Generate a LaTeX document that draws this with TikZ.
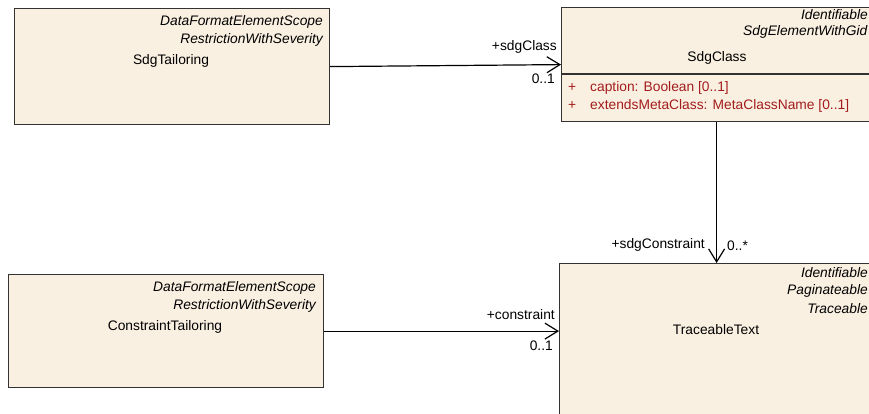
\documentclass[tikz,border=0pt]{standalone}
\usepackage{fontspec}
\setmainfont{Liberation Sans}
\usetikzlibrary{arrows.meta}
\definecolor{ClassFill}{RGB}{250,240,226}
\definecolor{AttrRed}{RGB}{163,28,28}
\definecolor{EdgeGray}{RGB}{50,50,50}
\tikzset{cbox/.style = {draw = EdgeGray, fill = ClassFill, line width = 1.2pt, anchor = north west}}
\tikzset{stereo/.style = {anchor = east, font = \fontsize{13.8}{16}\selectfont\itshape}}
\tikzset{attr/.style = {anchor = west, text = AttrRed}}
\tikzset{assoc/.style = {line width = 1.2pt, -{Straight Barb[length = 13pt, width = 16pt, line width = 1.2pt]}}}

\begin{document}
\begin{tikzpicture}[x = 1pt, y = -1pt, every node/.style = {inner sep = 0pt, font = \fontsize{13.8}{16}\selectfont}]
    \useasboundingbox (0, 0) rectangle (869, 414);
    \clip (0, 0) rectangle (869, 414);
    \foreach \x\y\w\h\n in {14/8/315/116/sdgtail, 8/274/315/113/contail, 561/7/310/114/sdgclass, 559/263/316/170/trace} {
        \node [cbox, minimum width = \w pt, minimum height = \h pt] (\n) at (\x, \y) {};
    }
    \draw [EdgeGray, line width = 1.2pt] (sdgclass.west |- 0, 74) -- (sdgclass.east |- 0, 74);
    \foreach \x\y\t\n in {323/22/DataFormatElementScope/st1, 323/40/RestrictionWithSeverity/st2, 316/288/DataFormatElementScope/st3, 316/306/RestrictionWithSeverity/st4, 868/15/Identifiable/st5, 868/273/Identifiable/st6, 868/291/Paginateable/st7, 868/309/Traceable/st8} {
        \node [stereo] (\n) at (\x, \y) {\t};
    }
    \node [stereo, anchor = west] (st9) at (743, 32) {SdgElementWithGid};
    \node (sdgtailname) at (171, 61) {SdgTailoring};
    \node (contailname) at (165, 327) {ConstraintTailoring};
    \node (sdgclassname) at (717, 58) {SdgClass};
    \node (tracename) at (716, 330) {TraceableText};
    \node [attr] (plus1) at (568, 88) {+};
    \node [attr] (attr1) at (590, 88) {caption: Boolean [0..1]};
    \node [attr] (plus2) at (568, 106) {+};
    \node [attr] (attr2) at (590, 106) {extendsMetaClass: MetaClassName [0..1]};
    % associations
    \draw [assoc] (sdgtail.east) -- (sdgclass.west);
    \draw [assoc] (sdgclass.south) -- (sdgclass.south |- trace.north);
    \draw [assoc] (contail.east) -- (contail.east -| trace.west);
    \node [anchor = east] (lsdgclass) at (557, 47) {+sdgClass};
    \node [anchor = east] (msdgclass) at (555, 79) {0..1};
    \node [anchor = east] (lconstr) at (555, 315) {+constraint};
    \node [anchor = east] (mconstr) at (553, 346) {0..1};
    \node [anchor = east] (lsdgcons) at (705, 245) {+sdgConstraint};
    \node [anchor = west] (msdgcons) at (727, 246) {0..*};
\end{tikzpicture}
\end{document}
